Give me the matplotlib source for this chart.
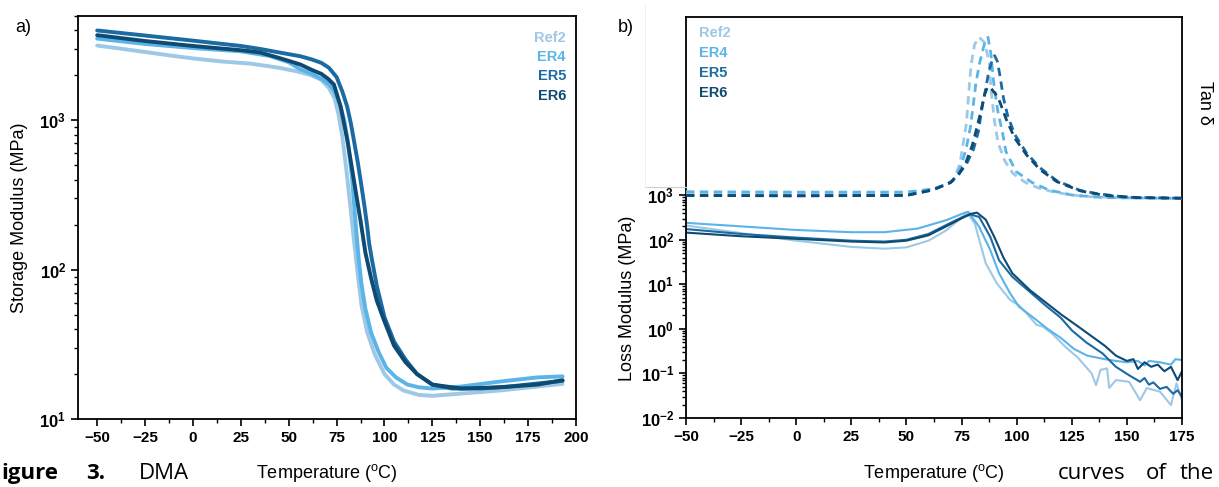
import numpy as np
import matplotlib
matplotlib.use('Agg')
import matplotlib.pyplot as plt
from matplotlib.ticker import MultipleLocator, FuncFormatter, NullFormatter
from matplotlib.lines import Line2D

plt.rcParams['font.family'] = ['Liberation Sans', 'DejaVu Sans']
plt.rcParams['mathtext.fontset'] = 'custom'
plt.rcParams['mathtext.rm'] = 'Liberation Sans'
plt.rcParams['mathtext.bf'] = 'Liberation Sans:bold'
plt.rcParams['axes.unicode_minus'] = True

names = ['Ref2', 'ER4', 'ER5', 'ER6']
colors = ['#9dc8e6', '#5ab4e8', '#1a6aa3', '#0e4a72']

# --- a) storage modulus (MPa) ---
t_ref2 = [-50, -40, -25, -10, 0, 15, 30, 45, 55, 62, 67, 71, 74, 76, 78, 80, 82, 84, 86, 88,
          91, 95, 100, 105, 110, 118, 125, 140, 160, 180, 193]
e_ref2 = [3170, 3050, 2870, 2700, 2600, 2480, 2400, 2250, 2120, 2000, 1870, 1650, 1400, 1100, 780,
          480, 280, 160, 95, 58, 38, 27, 20, 17, 15.5, 14.5, 14.3, 14.8, 15.5, 16.5, 17.2]
t_er4 = [-50, -25, 0, 25, 40, 50, 56, 62, 67, 71, 74, 77, 79, 81, 83, 85, 86.5, 88, 90, 93,
         97, 101, 106, 112, 118, 125, 140, 160, 180, 193]
e_er4 = [3530, 3250, 3050, 2900, 2700, 2450, 2200, 2050, 1900, 1750, 1560, 1250, 1000, 700, 420,
         200, 120, 80, 55, 38, 28, 22, 19, 17, 16.3, 16, 16.5, 17.8, 19, 19.3]
t_er5 = [-50, -25, 0, 25, 35, 45, 56, 62, 67, 71, 75, 78, 80.5, 82.5, 84, 86, 87.5, 89.5, 91, 92,
         93.5, 96, 100, 105, 111, 117, 125, 135, 150, 165, 180, 193]
e_er5 = [4000, 3700, 3420, 3150, 3010, 2850, 2690, 2560, 2430, 2250, 1950, 1560, 1240, 950, 740,
         530, 400, 270, 195, 150, 116, 78, 48, 33, 25, 20, 17, 16, 16, 16.5, 17.3, 18]
t_er6 = [-50, -25, 0, 25, 35, 45, 56, 62, 67, 70.5, 73.6, 77.1, 80.6, 84, 87.5, 90.1, 93, 96,
         100, 105, 111, 117, 125, 140, 160, 180, 193]
e_er6 = [3720, 3400, 3150, 2950, 2850, 2620, 2370, 2180, 2050, 1900, 1740, 1240, 740, 400, 213,
         129, 88, 62, 45, 31, 24, 20, 17, 16, 16.3, 17, 18.2]

# --- b) loss modulus (MPa) ---
lt_ref2 = [-50, -25, 0, 25, 40, 50, 60, 68, 75, 77.5, 81, 83, 86, 91, 97, 101, 104.5, 109, 112, 116,
           122, 128, 134, 136, 138, 141, 142, 145, 151, 156, 159, 165, 170, 172.5, 175]
lm_ref2 = [209, 141, 95.5, 69.2, 63.1, 67.6, 95.5, 162, 316, 398, 234, 100, 29.5, 10.5, 4.47, 3.39,
           2.24, 1.23, 1.12, 0.79, 0.40, 0.22, 0.10, 0.055, 0.12, 0.13, 0.047, 0.071, 0.065, 0.025,
           0.047, 0.039, 0.0195, 0.060, 0.025]
lt_er4 = [-50, -25, 0, 25, 40, 55, 68, 75.6, 78, 83, 88, 92, 97, 101, 109, 114, 120, 126, 132, 140,
          145, 150, 155, 158, 160, 165, 170, 172, 175]
lm_er4 = [240, 200, 166, 148, 148, 178, 275, 389, 427, 195, 58.9, 17.8, 6.31, 3.16, 1.58, 1.0, 0.63,
          0.355, 0.251, 0.209, 0.191, 0.178, 0.191, 0.151, 0.191, 0.178, 0.158, 0.209, 0.2]
lt_er5 = [-50, -25, 0, 25, 40, 50, 60, 68, 75, 79, 83, 88, 92, 98, 106, 113, 120, 125, 131.5, 139,
          145, 151, 156, 158, 160, 162, 165, 168, 171, 173, 175]
lm_er5 = [174, 135, 112, 95.5, 91.2, 100, 135, 214, 316, 372, 324, 117, 34.7, 14.8, 6.76, 3.39, 1.78,
          0.93, 0.50, 0.28, 0.141, 0.091, 0.065, 0.079, 0.056, 0.063, 0.045, 0.050, 0.035, 0.042, 0.030]
lt_er6 = [-50, -25, 0, 25, 40, 50, 60, 68, 75, 79, 82, 86, 90, 94, 98, 106, 113, 120, 128, 135, 140,
          145, 150, 153, 155, 158, 161, 164, 167, 170, 173, 175]
lm_er6 = [145, 120, 105, 91.2, 87.1, 95.5, 126, 200, 302, 380, 407, 282, 112, 39.8, 17.8, 7.41, 3.98,
          2.14, 1.12, 0.63, 0.417, 0.251, 0.191, 0.209, 0.126, 0.178, 0.141, 0.158, 0.112, 0.141,
          0.0708, 0.112]

# --- b) tan delta ---
tt_ref2 = [-50, -25, 0, 25, 50, 62, 67, 71.2, 74.2, 75.7, 77.2, 77.9, 78.6, 79.4, 80.9, 83, 85.5,
           87.6, 88.4, 90, 91.5, 94.5, 98.3, 104, 110, 118, 130, 150, 175]
td_ref2 = [0.046, 0.045, 0.043, 0.042, 0.045, 0.065, 0.085, 0.11, 0.2, 0.31, 0.42, 0.53, 0.64, 0.745,
           0.85, 0.89, 0.86, 0.75, 0.6, 0.43, 0.32, 0.22, 0.15, 0.1, 0.07, 0.045, 0.025, 0.016, 0.014]
tt_er4 = [-50, 0, 50, 62, 67, 71, 74.5, 77, 79, 80.3, 81.5, 83.2, 85.5, 87, 88.3, 89.5, 91.4, 93.6,
          95.1, 99.7, 107, 114.5, 125, 140, 175]
td_er4 = [0.05, 0.048, 0.048, 0.065, 0.085, 0.11, 0.18, 0.28, 0.4, 0.52, 0.64, 0.75, 0.86, 0.89, 0.8,
          0.65, 0.49, 0.37, 0.27, 0.16, 0.1, 0.06, 0.032, 0.018, 0.014]
tt_er5 = [-50, 0, 50, 62, 70, 74, 77.2, 80.4, 82.7, 84.2, 85.8, 87.3, 89, 90, 91.2, 92.3, 94, 96,
          99.2, 104.5, 110.6, 118.2, 128.8, 136.4, 150, 175]
td_er5 = [0.03, 0.028, 0.03, 0.06, 0.1, 0.15, 0.2, 0.28, 0.38, 0.5, 0.6, 0.7, 0.77, 0.79, 0.76, 0.69,
          0.56, 0.46, 0.36, 0.26, 0.18, 0.11, 0.057, 0.04, 0.02, 0.015]
tt_er6 = [-50, 0, 50, 62, 70, 74, 77, 79.8, 82, 84, 85.5, 86.8, 88.5, 90.5, 92.3, 95.4, 99.2, 104.5,
          110.6, 118.2, 128.8, 140, 155, 175]
td_er6 = [0.03, 0.028, 0.03, 0.06, 0.1, 0.15, 0.21, 0.3, 0.4, 0.5, 0.58, 0.62, 0.61, 0.58, 0.54, 0.44,
          0.34, 0.25, 0.17, 0.105, 0.055, 0.03, 0.018, 0.015]

storage = [(t_ref2, e_ref2), (t_er4, e_er4), (t_er5, e_er5), (t_er6, e_er6)]
loss = [(lt_ref2, lm_ref2), (lt_er4, lm_er4), (lt_er5, lm_er5), (lt_er6, lm_er6)]
tand = [(tt_ref2, td_ref2), (tt_er4, td_er4), (tt_er5, td_er5), (tt_er6, td_er6)]

W, H = 1219, 487
fig = plt.figure(figsize=(W / 100, H / 100), dpi=100)


def box(x0, y0, x1, y1):
    return [x0 / W, 1 - y1 / H, (x1 - x0) / W, (y1 - y0) / H]


def sci(v, pos):
    e = int(round(np.log10(v)))
    return r'$\mathbf{10^{%d}}$' % e


def style(ax):
    for s in ax.spines.values():
        s.set_linewidth(1.3)
    ax.tick_params(which='major', direction='out', length=5, width=1.2, labelsize=11)
    ax.tick_params(axis='y', which='major', labelsize=12)
    ax.tick_params(which='minor', direction='out', length=3, width=1)


# panel a
axa = fig.add_axes(box(78, 16, 576, 419))
for (t, e), c in zip(storage, colors):
    axa.plot(t, e, color=c, lw=2.8, solid_capstyle='round')
axa.set_yscale('log')
axa.set_xlim(-60, 200)
axa.set_ylim(10, 5000)
axa.set_xticks(np.arange(-50, 201, 25))
axa.xaxis.set_minor_locator(MultipleLocator(12.5))
axa.set_yticks([10, 100, 1000])
axa.yaxis.set_major_formatter(FuncFormatter(sci))
axa.yaxis.set_minor_formatter(NullFormatter())
style(axa)
axa.set_xticklabels([str(v).replace('-', '\u2212') for v in range(-50, 201, 25)], fontweight='bold')
axa.set_ylabel('Storage Modulus (MPa)', fontsize=13, labelpad=8)
for i, (n, c) in enumerate(zip(names, colors)):
    fig.text(566 / W, 1 - [38, 57, 76, 96][i] / H, n, color=c, fontsize=10.5,
             fontweight='bold', ha='right', va='center')

# panel b
axb = fig.add_axes(box(686, 17, 1182, 418))
for (t, m), c in zip(loss, colors):
    axb.plot(t, m, color=c, lw=1.5)
axb.set_yscale('log')
axb.set_xlim(-50, 175)
axb.set_ylim(1e-2, 1e7)
axb.set_xticks(np.arange(-50, 176, 25))
axb.xaxis.set_minor_locator(MultipleLocator(12.5))
axb.set_yticks([1e-2, 1e-1, 1, 10, 100, 1000])
axb.set_yticks([k * 10.0 ** d for d in range(-2, 3) for k in range(2, 10)], minor=True)
axb.yaxis.set_major_formatter(FuncFormatter(sci))
axb.yaxis.set_minor_formatter(NullFormatter())
style(axb)
axb.set_xticklabels([str(v).replace('-', '\u2212') for v in range(-50, 176, 25)], fontweight='bold')

axt = axb.twinx()
for (t, d), c in zip(tand, colors):
    axt.plot(t, d, color=c, lw=2, linestyle=(0, (3, 2)))
axt.set_ylim(-1.18, 1.0)
axt.set_yticks([])
for s in axt.spines.values():
    s.set_visible(False)
for i, (n, c) in enumerate(zip(names, colors)):
    fig.text(699 / W, 1 - [33, 53, 73, 93][i] / H, n, color=c, fontsize=10.5,
             fontweight='bold', ha='left', va='center')

# faint leftover frame beside panel b
fig.add_artist(Line2D([645 / W, 686 / W], [1 - 187 / H, 1 - 187 / H], color='#cfcfcf', lw=0.8))
fig.add_artist(Line2D([645 / W, 645 / W], [1 - 5 / H, 1 - 187 / H], color='#f0f0f0', lw=0.8))

# labels
fig.text(628 / W, 1 - 298 / H, 'Loss Modulus (MPa)', fontsize=13, rotation=90,
         ha='center', va='center')
fig.text(1205 / W, 1 - 103 / H, 'Tan \u03b4', fontsize=13, rotation=270,
         ha='center', va='center', family=['Liberation Sans', 'DejaVu Sans'])
fig.text(327 / W, 1 - 473 / H, r'Temperature ($^{\rm o}$C)', fontsize=13, ha='center', va='center')
fig.text(934 / W, 1 - 473 / H, r'Temperature ($^{\rm o}$C)', fontsize=13, ha='center', va='center')
fig.text(23 / W, 1 - 27 / H, 'a)', fontsize=13, ha='center', va='center')
fig.text(626 / W, 1 - 28 / H, 'b)', fontsize=13, ha='center', va='center')

# caption fragments from the surrounding document
cap = dict(fontsize=16, va='baseline', family=['Open Sans', 'DejaVu Sans'])
fig.text(1 / W, 1 - 479 / H, 'igure', fontweight='bold', **cap)
fig.text(86 / W, 1 - 479 / H, '3.', fontweight='bold', **cap)
fig.text(139 / W, 1 - 479 / H, 'DMA', **cap)
fig.text(1058 / W, 1 - 479 / H, 'curves', **cap)
fig.text(1146 / W, 1 - 479 / H, 'of', **cap)
fig.text(1180 / W, 1 - 479 / H, 'the', **cap)

fig.savefig('out.png', dpi=100)
